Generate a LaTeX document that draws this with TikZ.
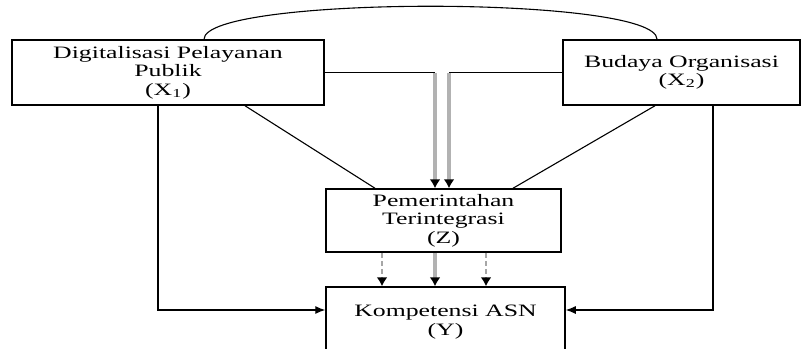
\documentclass[tikz,border=0pt]{standalone}
\usepackage{fontspec}
\setmainfont{Liberation Serif}[FakeStretch=1.48]
\usetikzlibrary{arrows.meta}

\begin{document}
\begin{tikzpicture}[x=0.5pt,y=-0.5pt,
        var/.style={draw,line width=0.75pt,align=center,inner sep=0pt,font=\fontsize{8.7}{9.2}\selectfont},
        link/.style={line width=0.55pt},
        linkarrow/.style={line width=0.55pt,-{Latex[length=5pt,width=4pt]}},
        greyarrow/.style={draw=gray!60,line width=1.6pt,-{Latex[black,length=4.5pt,width=5.5pt]}},
        dasharrow/.style={draw=gray!70,line width=1pt,dash pattern=on 2.5pt off 1.5pt,-{Latex[black,length=4.5pt,width=5.5pt]}}]
                \useasboundingbox (0,0) rectangle (802,348);
                \node[var,minimum width=156pt,minimum height=32.5pt] (X1) at (168,72.5) {Digitalisasi Pelayanan\\Publik\\(X\textsubscript{1})};
                \node[var,minimum width=118.5pt,minimum height=32.5pt] (X2) at (681.5,72.5) {Budaya Organisasi\\(X\textsubscript{2})};
                \node[var,minimum width=117.5pt,minimum height=31.5pt] (Z) at (443.5,220.5) {Pemerintahan\\Terintegrasi\\(Z)};
                \node[var,minimum width=119.5pt,minimum height=35pt] (Y) at (445.5,322) {Kompetensi ASN\\(Y)};
                \coordinate (c1) at (435,0);
                \coordinate (c2) at (449,0);
                % X1 -- X2
                \draw[link] ([xshift=18pt]X1.north) .. controls +(0,-44) and +(0,-44) .. ([xshift=-12.25pt]X2.north);
                % to Z
                \draw[link] (X1.east) -- (X1.east -| c1);
                \draw[greyarrow] (X1.east -| c1) -- (Z.north -| c1);
                \draw[link] (X2.west) -- (X2.west -| c2);
                \draw[greyarrow] (X2.west -| c2) -- (Z.north -| c2);
                \draw[link] ([xshift=38.5pt]X1.south) -- ([xshift=-34.25pt]Z.north);
                \draw[link] ([xshift=-13.25pt]X2.south) -- ([xshift=34.75pt]Z.north);
                % to Y
                \draw[linkarrow] ([xshift=-5pt]X1.south) |- ([yshift=6pt]Y.west);
                \draw[linkarrow] ([xshift=15.75pt]X2.south) |- ([yshift=6pt]Y.east);
                \draw[dasharrow] ([xshift=-30.75pt]Z.south) -- ([xshift=-31.75pt]Y.north);
                \draw[greyarrow] ([xshift=-4.25pt]Z.south) -- ([xshift=-5.25pt]Y.north);
                \draw[dasharrow] ([xshift=21.25pt]Z.south) -- ([xshift=20.25pt]Y.north);
            \end{tikzpicture}
\end{document}
